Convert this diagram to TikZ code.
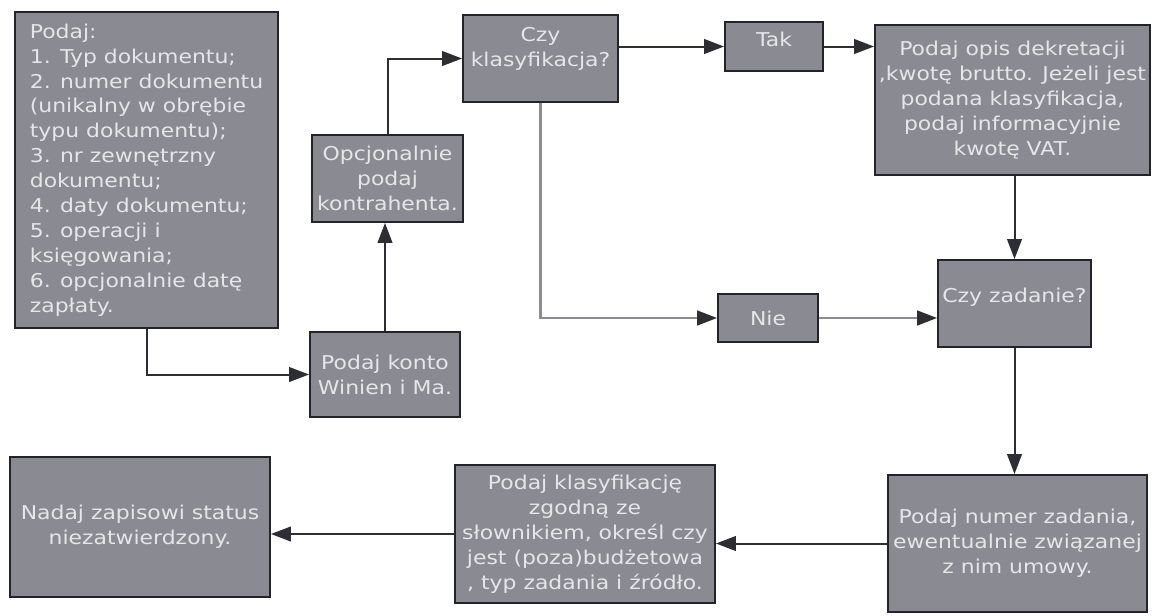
\documentclass[tikz,border=0pt]{standalone}
\usepackage{fontspec}
\setmainfont[FakeStretch=1.15]{DejaVu Sans}
\usetikzlibrary{arrows.meta}
\definecolor{boxfill}{RGB}{138,138,146}
\definecolor{boxtext}{RGB}{230,230,232}
\definecolor{boxline}{RGB}{35,35,42}
\definecolor{arrline}{RGB}{45,45,52}
\definecolor{arrlight}{RGB}{140,140,146}
\tikzset{
  box/.style={draw=boxline, line width=1.4pt, fill=boxfill, text=boxtext,
    inner sep=0pt, font=\fontsize{14.3}{18.7}\selectfont},
  arr/.style={draw=arrline, line width=1.5pt, -{Triangle[length=15pt,width=11pt]}},
  arrl/.style={draw=arrlight, line width=1.9pt, -{Triangle[length=15pt,width=11pt,color=arrline]}}
}
\newcommand\bx[7]{\node[box,#6,minimum width={(#4-#2)*0.75pt},minimum height={(#5-#3)*0.75pt}] (#1) at ({(#2+#4)/2},{(#3+#5)/2}) {#7};}
\begin{document}
\begin{tikzpicture}[x=0.75pt,y=-0.75pt]
\useasboundingbox (0,0) rectangle (1156,615);
\bx{A}{15}{12}{278}{328}{align=left}{Podaj:\\1. Typ dokumentu;\\2. numer dokumentu\\(unikalny w obrębie\\typu dokumentu);\\3. nr zewnętrzny\\dokumentu;\\4. daty dokumentu;\\5. operacji i\\księgowania;\\6. opcjonalnie datę\\zapłaty.}
\bx{O}{312}{135}{463}{222}{align=center}{Opcjonalnie\\podaj\\kontrahenta.}
\bx{K}{310}{332}{460}{417}{align=center}{Podaj konto\\Winien i Ma.}
\bx{C}{463}{15}{618}{102}{align=center,text depth=18pt}{Czy\\klasyfikacja?}
\bx{T}{725}{22}{823}{71}{align=center,text depth=11pt}{Tak}
\bx{P}{875}{25}{1150}{175}{align=center}{Podaj opis dekretacji\\,kwotę brutto. Jeżeli jest\\podana klasyfikacja,\\podaj informacyjnie\\kwotę VAT.}
\bx{N}{718}{294}{818}{342}{align=center}{Nie}
\bx{Z}{938}{260}{1091}{347}{align=center,text depth=12pt}{Czy zadanie?}
\bx{U}{888}{475}{1147}{612}{align=center}{Podaj numer zadania,\\ewentualnie związanej\\z nim umowy.}
\bx{L}{455}{465}{715}{603}{align=center}{Podaj klasyfikację\\zgodną ze\\słownikiem, określ czy\\jest (poza)budżetowa\\, typ zadania i źródło.}
\bx{D}{10}{457}{270}{597}{align=center}{Nadaj zapisowi status\\niezatwierdzony.}
\draw[arr] (A.south) |- (K.west);
\draw[arr] (K.north) -- (K.north |- O.south);
\draw[arr] (O.north) |- (C.west);
\draw[arr] (C.east |- T.west) -- (T.west);
\draw[arr] (T.east) -- (T.east -| P.west);
\draw[arrl] (C.south) |- (N.west);
\draw[arrl] (N.east) -- (N.east -| Z.west);
\draw[arr] (Z.north |- P.south) -- (Z.north);
\draw[arr] (Z.south) -- (Z.south |- U.north);
\draw[arr] (U.west) -- (U.west -| L.east);
\draw[arr] (L.west) -- (L.west -| D.east);
\end{tikzpicture}
\end{document}
